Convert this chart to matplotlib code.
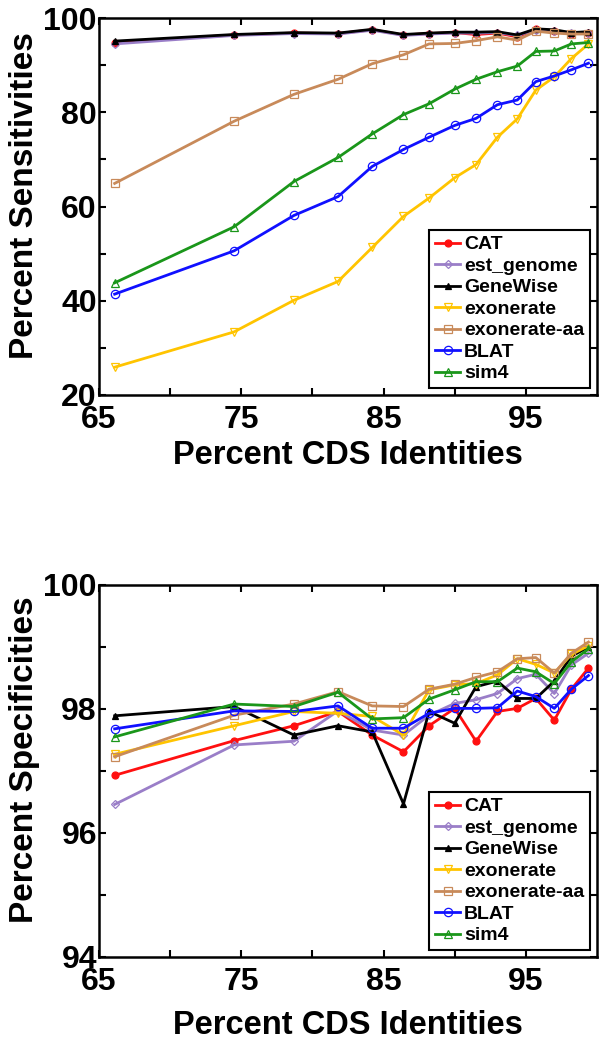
import numpy as np
import matplotlib
matplotlib.use("Agg")
import matplotlib.pyplot as plt

plt.rcParams['font.family'] = ['Liberation Sans', 'DejaVu Sans']
plt.rcParams['font.weight'] = 'bold'

# percent CDS identity bins
identity = [66.1, 74.5, 78.7, 81.8, 84.2, 86.4, 88.2, 90.0, 91.5, 93.0, 94.4, 95.7, 97.0, 98.2, 99.4]

programs = ['CAT', 'est_genome', 'GeneWise', 'exonerate', 'exonerate-aa', 'BLAT', 'sim4']

# sensitivities
sens_cat = [94.8, 96.4, 96.8, 96.7, 97.5, 96.4, 96.7, 96.9, 96.5, 96.8, 96.0, 97.6, 97.2, 96.6, 96.9]
sens_est = [94.5, 96.3, 96.7, 96.6, 97.4, 96.3, 96.6, 96.8, 96.8, 96.9, 96.3, 97.5, 97.3, 96.8, 96.9]
sens_gw = [95.1, 96.5, 96.9, 96.8, 97.6, 96.5, 96.8, 97.0, 97.0, 97.1, 96.4, 97.7, 97.5, 96.9, 97.1]
sens_exo = [25.9, 33.4, 40.1, 44.1, 51.3, 57.9, 61.8, 66.1, 68.9, 74.7, 78.6, 84.7, 87.5, 91.4, 94.5]
sens_exoaa = [64.9, 78.1, 83.8, 87.0, 90.3, 92.2, 94.5, 94.6, 95.2, 96.0, 95.3, 97.2, 96.8, 96.6, 96.6]
sens_blat = [41.4, 50.6, 58.1, 62.1, 68.5, 72.1, 74.7, 77.2, 78.7, 81.6, 82.6, 86.5, 87.7, 89.0, 90.4]
sens_sim4 = [43.8, 55.7, 65.3, 70.4, 75.4, 79.5, 81.8, 84.9, 87.0, 88.6, 89.8, 92.9, 93.0, 94.5, 94.8]

# specificities
spec_cat = [96.93, 97.49, 97.73, 97.96, 97.58, 97.31, 97.73, 98.01, 97.48, 97.96, 98.01, 98.17, 97.82, 98.32, 98.66]
spec_est = [96.46, 97.42, 97.48, 97.97, 97.66, 97.58, 97.90, 98.09, 98.15, 98.25, 98.49, 98.56, 98.25, 98.71, 98.90]
spec_gw = [97.89, 98.04, 97.58, 97.73, 97.63, 96.47, 97.96, 97.77, 98.36, 98.45, 98.17, 98.17, 98.45, 98.85, 99.00]
spec_exo = [97.27, 97.73, 97.96, 97.93, 97.88, 97.58, 98.31, 98.39, 98.41, 98.55, 98.81, 98.72, 98.58, 98.88, 99.02]
spec_exoaa = [97.23, 97.90, 98.08, 98.28, 98.05, 98.04, 98.32, 98.40, 98.51, 98.60, 98.81, 98.83, 98.58, 98.90, 99.08]
spec_blat = [97.68, 97.97, 97.96, 98.05, 97.69, 97.69, 97.93, 98.01, 98.01, 98.02, 98.29, 98.20, 98.01, 98.32, 98.54]
spec_sim4 = [97.55, 98.08, 98.04, 98.27, 97.84, 97.86, 98.16, 98.31, 98.44, 98.44, 98.66, 98.60, 98.41, 98.76, 98.97]

colors = ['#ff1010', '#9a7ec8', '#000000', '#ffc400', '#c88a5a', '#1010ff', '#1a961a']
markers = ['o', 'D', '^', 'v', 's', 'o', '^']
filled = [True, False, True, False, False, False, False]
msizes = [5, 4, 5, 6, 6, 6, 6]


def draw(ax, series, ylim, yticks, ylabels, ylabel, xlab_y):
    for name, vals, c, m, f, ms in zip(programs, series, colors, markers, filled, msizes):
        ax.plot(identity, vals, color=c, lw=2, marker=m, ms=ms,
                mfc=c if f else 'none', mec=c, mew=0.9, label=name)
    ax.set_xlim(65, 100)
    ax.set_ylim(*ylim)
    ax.set_xticks([65, 70, 75, 80, 85, 90, 95])
    ax.set_xticklabels(['65', '', '75', '', '85', '', '95'])
    ax.set_yticks(yticks)
    ax.set_yticklabels(ylabels)
    ax.tick_params(direction='in', length=5, width=1.5, top=True, right=True, labelsize=23)
    ax.tick_params(axis='x', pad=7)
    ax.tick_params(axis='y', pad=1.5)
    for lab in ax.get_xticklabels() + ax.get_yticklabels():
        lab.set_fontweight('bold')
    for s in ax.spines.values():
        s.set_linewidth(1.8)
    ax.set_xlabel('Percent CDS Identities', fontsize=23.5, fontweight='bold')
    ax.set_ylabel(ylabel, fontsize=24, fontweight='bold')
    ax.xaxis.set_label_coords(0.5, xlab_y)
    ax.yaxis.set_label_coords(-0.118, 0.53)
    leg = ax.legend(loc='lower right', fontsize=14, handlelength=1.3, handletextpad=0.2,
                    labelspacing=0.2, borderpad=0.3, borderaxespad=0.35,
                    fancybox=False, edgecolor='black', framealpha=1)
    leg.get_frame().set_linewidth(1.5)
    for t in leg.get_texts():
        t.set_fontweight('bold')


fig = plt.figure(figsize=(6.0, 10.43), dpi=100)
ax1 = fig.add_axes([99 / 600, 1 - 395 / 1043, 498 / 600, 377 / 1043])
ax2 = fig.add_axes([99 / 600, 1 - 957 / 1043, 498 / 600, 372 / 1043])

draw(ax1, [sens_cat, sens_est, sens_gw, sens_exo, sens_exoaa, sens_blat, sens_sim4],
     (20, 100), [20, 30, 40, 50, 60, 70, 80, 90, 100],
     ['20', '', '40', '', '60', '', '80', '', '100'], 'Percent Sensitivities', -0.12)
draw(ax2, [spec_cat, spec_est, spec_gw, spec_exo, spec_exoaa, spec_blat, spec_sim4],
     (94, 100), [94, 95, 96, 97, 98, 99, 100],
     ['94', '', '96', '', '98', '', '100'], 'Percent Specificities', -0.142)

fig.savefig('out.png', dpi=100)
